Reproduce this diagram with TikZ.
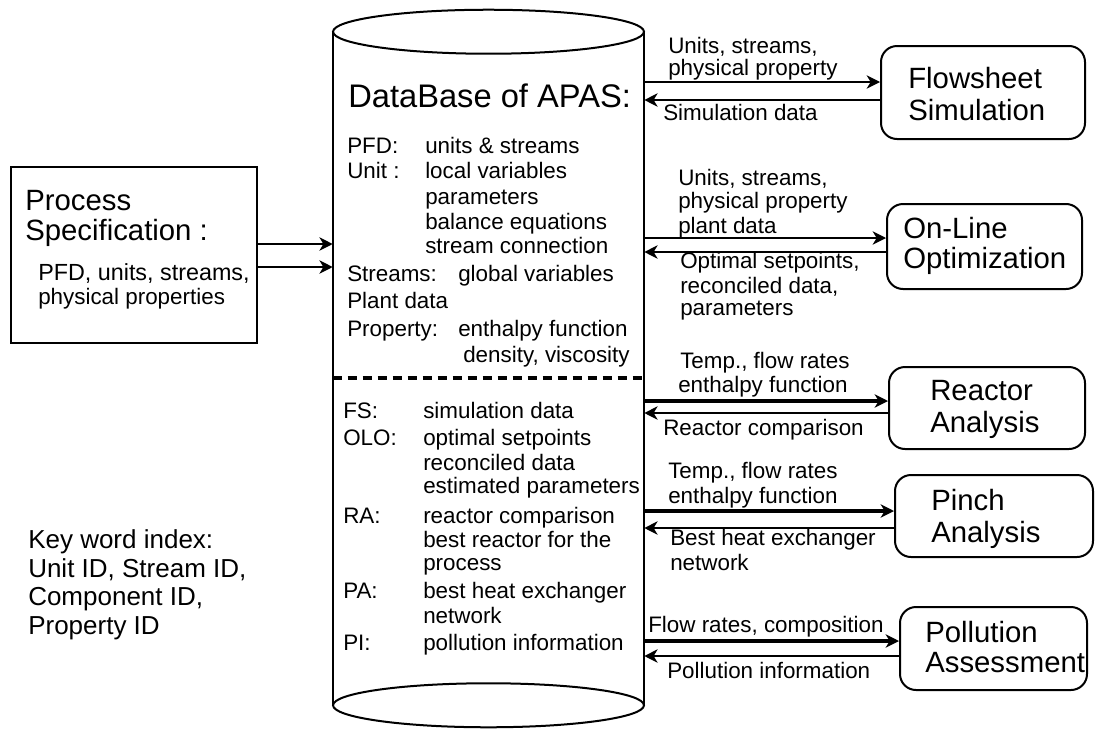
\documentclass[tikz,border=0pt]{standalone}
\usepackage{fontspec}
\setmainfont{Liberation Sans}
\usetikzlibrary{arrows.meta,calc}
\begin{document}
\begin{tikzpicture}[x=0.75pt,y=-0.75pt,
  txt/.style={anchor=base west,inner sep=0pt,font=\fontsize{16.8}{20}\selectfont},
  big/.style={anchor=base west,inner sep=0pt,font=\fontsize{22}{26}\selectfont},
  key/.style={anchor=base west,inner sep=0pt,font=\fontsize{19.5}{24}\selectfont},
  sbox/.style={draw,rounded corners=12pt,line width=1.5pt,inner sep=0pt},
  arr/.style={line width=1.3pt,-{Stealth[length=10pt,width=10pt,inset=3pt]}},
  tarr/.style={line width=2.6pt,-{Stealth[length=10pt,width=10pt,inset=3pt]}},
  cyl/.style={line width=1.5pt},
]
\useasboundingbox (0,0) rectangle (1095,732);

% database cylinder
\node[inner sep=0pt,minimum width=233.25pt,minimum height=504.75pt] (db) at (488.5,368.5) {};
\draw[cyl] (db.north west) -- (db.south west) (db.north east) -- (db.south east);
\draw[cyl,fill=white] (db.north) ellipse [x radius=116.6pt, y radius=16.5pt];
\draw[cyl] (db.south) ellipse [x radius=116.6pt, y radius=16.5pt];
\draw[line width=2.5pt,dash pattern=on 6.75pt off 4.5pt] (db.west |- 0,378) -- (db.east |- 0,378);

\node[anchor=base west,inner sep=0pt,font=\fontsize{24.5}{28}\selectfont] (dbt) at (348,107) {DataBase of APAS:};
\node[txt] (c1) at (347,153) {PFD:};
\node[txt] (c2) at (347,178) {Unit :};
\node[txt] (c3) at (347,281) {Streams:};
\node[txt] (c4) at (347,308) {Plant data};
\node[txt] (c5) at (347,336) {Property:};
\node[txt] (d1) at (425,153) {units \& streams};
\node[txt] (d2) at (425,178) {local variables};
\node[txt] (d3) at (425,204) {parameters};
\node[txt] (d4) at (425,229) {balance equations};
\node[txt] (d5) at (425,253) {stream connection};
\node[txt] (d6) at (458,281) {global variables};
\node[txt] (d7) at (458,336) {enthalpy function};
\node[txt] (d8) at (463,362) {density, viscosity};

\node[txt] (e1) at (343,418) {FS:};
\node[txt] (e2) at (343,445) {OLO:};
\node[txt] (e3) at (343,523) {RA:};
\node[txt] (e4) at (343,598) {PA:};
\node[txt] (e5) at (343,650) {PI:};
\node[txt] (f1) at (423,418) {simulation data};
\node[txt] (f2) at (423,445) {optimal setpoints};
\node[txt] (f3) at (423,470) {reconciled data};
\node[txt] (f4) at (423,493) {estimated parameters};
\node[txt] (f5) at (423,523) {reactor comparison};
\node[txt] (f6) at (423,547) {best reactor for the};
\node[txt] (f7) at (423,570) {process};
\node[txt] (f8) at (423,598) {best heat exchanger};
\node[txt] (f9) at (423,623) {network};
\node[txt] (f10) at (423,650) {pollution information};

% process specification
\node[draw,line width=2.2pt,inner sep=0pt,minimum width=184.5pt,minimum height=132pt] (ps) at (134,255) {};
\node[big] (ps1) at (25,210) {Process};
\node[big] (ps2) at (25,240) {Specification :};
\node[txt,font=\fontsize{17.5}{20}\selectfont] (ps3) at (38,280) {PFD, units, streams,};
\node[txt] (ps4) at (38,304) {physical properties};
\draw[arr] (ps.east |- 0,244) -- (db.west |- 0,244);
\draw[arr] (ps.east |- 0,267) -- (db.west |- 0,267);

% key word index
\node[key] (k1) at (28,548) {Key word index:};
\node[key] (k2) at (28,577) {Unit ID, Stream ID,};
\node[key] (k3) at (28,605) {Component ID,};
\node[key] (k4) at (28,634) {Property ID};

% right boxes
\node[sbox,minimum width=153pt,minimum height=69.75pt] (fs) at (983,92.5) {};
\node[big] (fs1) at (908,88) {Flowsheet};
\node[big] (fs2) at (908,120) {Simulation};
\node[sbox,minimum width=146.25pt,minimum height=63.75pt] (olo) at (984.5,246.5) {};
\node[big] (olo1) at (903,238) {On-Line};
\node[big] (olo2) at (903,268) {Optimization};
\node[sbox,minimum width=147pt,minimum height=61.5pt] (ra) at (987,408) {};
\node[big] (ra1) at (930,400) {Reactor};
\node[big] (ra2) at (930,432) {Analysis};
\node[sbox,minimum width=148.5pt,minimum height=61.5pt] (pa) at (994,516) {};
\node[big] (pa1) at (931,510) {Pinch};
\node[big] (pa2) at (931,542) {Analysis};
\node[sbox,minimum width=140.25pt,minimum height=62.25pt] (pi) at (993.5,648.5) {};
\node[big] (pi1) at (925,642) {Pollution};
\node[big] (pi2) at (925,672) {Assessment};

% connectors
\draw[arr] (db.east |- 0,82) -- (fs.west |- 0,82);
\draw[arr] (fs.west |- 0,100) -- (db.east |- 0,100);
\draw[arr] (db.east |- 0,238) -- (olo.west |- 0,238);
\draw[arr] (olo.west |- 0,252) -- (db.east |- 0,252);
\draw[tarr] (db.east |- 0,401) -- (ra.west |- 0,401);
\draw[arr] (ra.west |- 0,413) -- (db.east |- 0,413);
\draw[tarr] (db.east |- 0,511) -- (pa.west |- 0,511);
\draw[arr] (pa.west |- 0,528) -- (db.east |- 0,528);
\draw[tarr] (db.east |- 0,641) -- (pi.west |- 0,641);
\draw[arr] (pi.west |- 0,656) -- (db.east |- 0,656);

% connector labels
\node[txt] (l1) at (668,53) {Units, streams,};
\node[txt] (l2) at (668,75) {physical property};
\node[txt] (l3) at (663,120) {Simulation data};
\node[txt] (l4) at (678,185) {Units, streams,};
\node[txt] (l5) at (678,208) {physical property};
\node[txt] (l6) at (678,233) {plant data};
\node[txt] (l7) at (680,268) {Optimal setpoints,};
\node[txt] (l8) at (680,293) {reconciled data,};
\node[txt] (l9) at (680,315) {parameters};
\node[txt] (l10) at (680,368) {Temp., flow rates};
\node[txt] (l11) at (678,392) {enthalpy function};
\node[txt] (l12) at (663,435) {Reactor comparison};
\node[txt] (l13) at (668,478) {Temp., flow rates};
\node[txt] (l14) at (668,503) {enthalpy function};
\node[txt] (l15) at (670,545) {Best heat exchanger};
\node[txt] (l16) at (670,570) {network};
\node[txt] (l17) at (648,632) {Flow rates, composition};
\node[txt] (l18) at (667,678) {Pollution information};
\end{tikzpicture}
\end{document}
